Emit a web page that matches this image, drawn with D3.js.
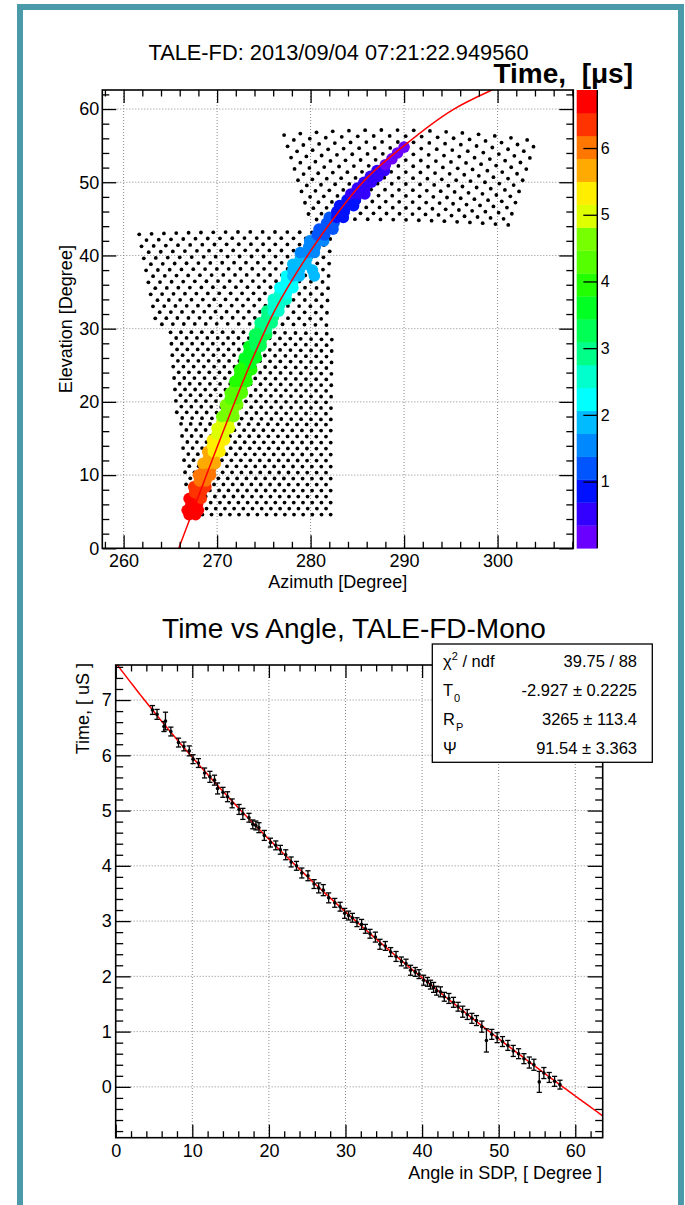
<!DOCTYPE html>
<html><head><meta charset="utf-8">
<script src="https://cdn.jsdelivr.net/npm/d3@7"></script>
<style>
html,body{margin:0;padding:0;background:#fff;}
svg text{font-family:"Liberation Sans",Arial,Helvetica,sans-serif;fill:#000;}
</style></head><body>
<svg id="c" width="685" height="1205"></svg>
<script>
// ---------------- DATA ----------------
const topTitle = "TALE-FD: 2013/09/04 07:21:22.949560";
const zTitle = "Time,\u00a0 [\u03bcs]";
const azLabel = "Azimuth [Degree]";
const elLabel = "Elevation [Degree]";
const azDomain = [257.72, 308.1];
const elDomain = [0, 62.6];
const azTicks = [260, 270, 280, 290, 300];
const elTicks = [0, 10, 20, 30, 40, 50, 60];
const zDomain = [0, 6.87];
const zTicks = [1, 2, 3, 4, 5, 6];
const zLevels = 20;
const palette = ["#6a00ff","#3300ff","#0011ff","#0055ff","#0088ff","#00bbff","#00ffff","#00ffcc","#00ff88","#00ff55",
                 "#00ff22","#22ff00","#55ff00","#77ff00","#ddff00","#ffee00","#ffaa00","#ff7700","#ff3300","#ff0000"];

// PMT cameras (mirrors): corner pixel centres [az, el], 16 x 16 hex array each
const mirrorNames = ["upper", "left", "middle", "lower"];
const mirrorTL = [[277.6, 56.5], [262.0, 42.9], [265.3, 29.5], [266.4, 17.0]];
const mirrorTR = [[303.6, 55.7], [281.8, 43.1], [282.0, 29.3], [281.9, 16.9]];
const mirrorBL = [[280.3, 44.9], [263.8, 30.6], [266.0, 17.8], [267.2, 4.6]];
const mirrorBR = [[300.8, 44.2], [281.4, 30.5], [281.9, 17.6], [281.9, 4.6]];
const mirrorBowTop = [1.0, 0.2, 0.1, 0.0];
const mirrorBowBottom = [0.3, 0.1, 0.0, 0.0];
const pmtRows = 16, pmtCols = 16;

// hit PMTs along the track: elevation of each row, azimuths and times (us)
const hitEl = [4.6,5.2,6.0,6.8,7.6,8.4,9.2,10.0,10.8,11.6,12.4,13.2,14.0,14.8,15.6,16.4,17.2,18.0,18.8,19.6,
  20.4,21.2,22.0,22.8,23.6,24.4,25.2,26.0,26.8,27.6,28.4,29.2,30.0,30.8,31.6,32.4,33.2,34.0,34.8,35.6,
  36.4,37.2,38.0,38.8,39.6,40.4,41.2,42.0,42.8,43.6,44.4,45.2,46.0,46.8,47.6,48.4,49.2,50.0,50.8,51.6,
  52.4,53.2,54.0,54.8];
const hitAz = [[267.0,267.7],[266.8,267.4,268.0],[267.2,267.9],[267.0,267.7,268.3],[267.6,268.3],[267.5,268.2,268.8],
  [268.1,268.8],[268.0,268.7,269.3],[268.6,269.3],[268.5,269.2,269.8],[269.1,269.7],[269.0,269.6,270.3],[269.5,270.2],
  [269.5,270.1,270.8],[270.0,270.7],[270.0,270.6,271.3],[270.5,271.2],[270.5,271.1,271.8],[271.0,271.7],[270.9,271.6,272.2],
  [271.4,272.1],[271.4,272.1,272.7],[271.9,272.6],[271.9,272.6,273.2],[272.4,273.1],[272.4,273.1,273.7],[272.9,273.6],
  [272.9,273.6,274.2],[273.4,274.1],[273.4,274.1,274.7],[274.0,274.7],[274.0,274.7,275.3],[274.6,275.3],[274.6,275.3,275.9],
  [275.3,276.0],[275.3,276.0,276.6],[276.0,276.7],[276.0,276.7,277.4],[276.7,277.4],[276.7,277.4,278.1],[277.4,278.1],
  [277.4,278.1,278.8,280.4],[278.1,278.8,280.2],[278.1,278.8,279.5],[278.9,279.6],[278.9,279.6,280.4],[279.8,280.5],
  [279.9,280.6,281.4],[280.7,281.5],[280.9,281.7,282.4],[281.7,282.5],[282.0,282.8,283.5],[282.8,283.6],[283.1,283.9,284.6],
  [283.9,284.8],[284.3,285.1,285.8],[285.0,285.8],[285.7,286.5],[286.4,287.2],[287.1,287.9],[288.0],[288.7],[289.3],[290.0]];
const hitTime = [[6.86,6.84],[6.82,6.80,6.78],[6.72,6.66],[6.58,6.55,6.50],[6.42,6.38],[6.32,6.28,6.24],
  [6.16,6.12],[6.06,6.02,5.98],[5.92,5.88],[5.82,5.76,5.72],[5.64,5.60],[5.52,5.48,5.44],[5.38,5.32],
  [5.26,5.22,5.18],[5.12,5.06],[5.02,4.98,4.92],[4.88,4.82],[4.78,4.74,4.70],[4.66,4.60],[4.56,4.52,4.48],
  [4.44,4.40],[4.34,4.30,4.27],[4.22,4.17],[4.12,4.08,4.05],[4.00,3.95],[3.90,3.86,3.82],[3.78,3.72],
  [3.68,3.63,3.60],[3.54,3.50],[3.45,3.40,3.37],[3.32,3.27],[3.22,3.18,3.14],[3.10,3.05],[3.00,2.95,2.92],
  [2.88,2.84],[2.78,2.74,2.70],[2.64,2.60],[2.55,2.50,2.46],[2.42,2.37],[2.32,2.28,2.24],[2.20,2.16],
  [2.10,2.06,2.02,1.98],[1.98,1.94,1.92],[1.88,1.84,1.81],[1.78,1.74],[1.68,1.64,1.60],[1.56,1.52],
  [1.48,1.44,1.40],[1.35,1.31],[1.26,1.22,1.19],[1.15,1.10],[1.05,1.01,0.98],[0.94,0.90],[0.85,0.81,0.78],
  [0.74,0.70],[0.68,0.64,0.60],[0.58,0.55],[0.52,0.48],[0.46,0.42],[0.40,0.37],[0.32],[0.25],[0.18],[0.10]];

// shower-detector-plane projection (red line, top panel)
const sdpAz = [265.9, 267.85, 274.2, 275.66, 279.94, 282.08, 285.29, 290.1, 295.2, 299.4, 301.0];
const sdpEl = [0.0, 6.6, 27.1, 31.2, 40.5, 44.4, 49.6, 55.1, 59.9, 62.6, 63.5];

// bottom panel
const botTitle = "Time vs Angle, TALE-FD-Mono";
const angLabel = "Angle in SDP, [ Degree ]";
const timeLabel = "Time, [ uS ]";
const angDomain = [0, 63.58];
const timeDomain = [-0.92, 7.634];
const angTicks = [0, 10, 20, 30, 40, 50, 60];
const timeAxisTicks = [0, 1, 2, 3, 4, 5, 6, 7];
const pAngle = [4.8,5.4,6.3,6.5,7.2,8.2,8.9,9.6,10.1,10.8,11.6,12.3,12.9,13.3,14.0,14.6,15.2,16.1,16.6,17.4,
  17.9,18.3,18.7,19.4,20.2,20.9,21.5,22.2,22.9,23.6,24.3,25.1,25.9,26.5,27.1,27.8,28.6,29.3,29.9,30.4,
  30.9,31.5,32.1,32.6,33.2,33.9,34.5,35.2,35.9,36.6,37.3,37.9,38.5,39.1,39.6,40.2,40.7,41.1,41.5,41.9,
  42.4,42.9,43.5,44.1,44.7,45.3,45.9,46.5,47.1,47.8,48.4,49.1,49.8,50.5,51.2,51.9,52.6,53.3,54.0,54.6,
  55.3,55.9,56.6,57.3,58.0];
const pTime = [6.82,6.74,6.52,6.62,6.43,6.23,6.16,6.08,5.93,5.86,5.68,5.61,5.55,5.40,5.33,5.25,5.13,5.02,4.94,4.87,
  4.75,4.73,4.69,4.55,4.42,4.37,4.29,4.20,4.07,4.00,3.87,3.82,3.67,3.60,3.56,3.42,3.33,3.26,3.14,3.10,
  3.06,2.98,2.94,2.86,2.77,2.71,2.58,2.55,2.44,2.36,2.27,2.23,2.11,2.08,2.04,1.93,1.90,1.85,1.80,1.74,
  1.72,1.63,1.60,1.53,1.45,1.36,1.31,1.24,1.20,1.09,0.84,0.95,0.89,0.82,0.75,0.65,0.60,0.51,0.44,0.40,
  0.09,0.25,0.17,0.10,0.04];
const pErr = [0.08,0.09,0.09,0.16,0.08,0.08,0.08,0.09,0.08,0.08,0.09,0.10,0.09,0.10,0.09,0.09,0.08,0.09,0.10,0.08,
  0.08,0.08,0.09,0.09,0.08,0.08,0.08,0.09,0.09,0.08,0.09,0.09,0.08,0.09,0.10,0.09,0.08,0.08,0.09,0.08,
  0.08,0.08,0.09,0.08,0.08,0.09,0.09,0.08,0.08,0.09,0.08,0.08,0.09,0.08,0.08,0.09,0.08,0.08,0.09,0.08,
  0.09,0.08,0.09,0.09,0.08,0.10,0.09,0.09,0.09,0.10,0.21,0.09,0.09,0.09,0.09,0.10,0.09,0.09,0.10,0.10,
  0.19,0.10,0.09,0.09,0.08];
// fit parameters (T0 [us], Rp [m], Psi [deg])
const fitT0 = -2.927, fitRp = 3265, fitPsi = 91.54;
const statsNames = ["chi2", "T0", "RP", "Psi"];
const statsValues = ["39.75 / 88", "-2.927 \u00b1 0.2225", "3265 \u00b1 113.4", "91.54 \u00b1 3.363"];

// ---------------- DRAW ----------------
const svg = d3.select("#c");
const FONT = 18;

// outer frame
svg.append("rect").attr("x", 20).attr("y", 7).attr("width", 661).attr("height", 1215)
  .attr("fill", "none").attr("stroke", "#4a9aaa").attr("stroke-width", 6);

function drawAxes(g, box, xs, ys, xMajor, xMinor, yMajor, yMinor, xLen, yLen, xPad, yPad) {
  const mk = (ax) => ax.tickSizeOuter(0);
  const fmt = d3.format("d");
  const style = (sel) => {
    sel.select(".domain").remove();
    sel.selectAll("line").attr("stroke", "#000").attr("stroke-width", 1.3);
    sel.selectAll("text").attr("font-size", FONT).attr("font-family", "Liberation Sans, Arial, sans-serif").attr("fill", "#000");
  };
  g.append("g").attr("transform", `translate(0,${box.y1})`)
    .call(mk(d3.axisBottom(xs).tickValues(xMinor).tickSizeInner(-xLen / 2).tickFormat(""))).call(style);
  g.append("g").attr("transform", `translate(0,${box.y1})`)
    .call(mk(d3.axisBottom(xs).tickValues(xMajor).tickSizeInner(-xLen).tickPadding(xPad).tickFormat(fmt))).call(style);
  g.append("g").attr("transform", `translate(0,${box.y0})`)
    .call(mk(d3.axisTop(xs).tickValues(xMinor).tickSizeInner(-xLen / 2).tickFormat(""))).call(style);
  g.append("g").attr("transform", `translate(0,${box.y0})`)
    .call(mk(d3.axisTop(xs).tickValues(xMajor).tickSizeInner(-xLen).tickFormat(""))).call(style);
  g.append("g").attr("transform", `translate(${box.x0},0)`)
    .call(mk(d3.axisLeft(ys).tickValues(yMinor).tickSizeInner(-yLen / 2).tickFormat(""))).call(style);
  g.append("g").attr("transform", `translate(${box.x0},0)`)
    .call(mk(d3.axisLeft(ys).tickValues(yMajor).tickSizeInner(-yLen).tickPadding(yPad).tickFormat(fmt))).call(style);
  g.append("g").attr("transform", `translate(${box.x1},0)`)
    .call(mk(d3.axisRight(ys).tickValues(yMinor).tickSizeInner(-yLen / 2).tickFormat(""))).call(style);
  g.append("g").attr("transform", `translate(${box.x1},0)`)
    .call(mk(d3.axisRight(ys).tickValues(yMajor).tickSizeInner(-yLen).tickFormat(""))).call(style);
  g.append("rect").attr("x", box.x0).attr("y", box.y0).attr("width", box.x1 - box.x0).attr("height", box.y1 - box.y0)
    .attr("fill", "none").attr("stroke", "#000").attr("stroke-width", 1.6);
}

function drawGrid(g, box, xs, ys, xv, yv) {
  const gg = g.append("g").attr("stroke", "#8a8a8a").attr("stroke-width", 1).attr("stroke-dasharray", "1,2");
  xv.forEach(v => gg.append("line").attr("x1", xs(v)).attr("x2", xs(v)).attr("y1", box.y0).attr("y2", box.y1));
  yv.forEach(v => gg.append("line").attr("y1", ys(v)).attr("y2", ys(v)).attr("x1", box.x0).attr("x2", box.x1));
}

const minorRange = (dom, step, majors) => d3.range(Math.ceil(dom[0] / step - 1e-9) * step, dom[1] + 1e-9, step)
  .map(v => +v.toFixed(6)).filter(v => !majors.some(m => Math.abs(m - v) < 1e-6));

// ===== TOP PANEL =====
const tp = { x0: 102.3, x1: 573.3, y0: 90, y1: 548.3 };
const xA = d3.scaleLinear().domain(azDomain).range([tp.x0, tp.x1]);
const yE = d3.scaleLinear().domain(elDomain).range([tp.y1, tp.y0]);
const gTop = svg.append("g");
const defs = svg.append("defs");
defs.append("clipPath").attr("id", "clipTop").append("rect")
  .attr("x", tp.x0).attr("y", tp.y0).attr("width", tp.x1 - tp.x0).attr("height", tp.y1 - tp.y0);

drawGrid(gTop, tp, xA, yE, azTicks.filter(v => v > azDomain[0] && v < azDomain[1]), elTicks.filter(v => v > elDomain[0] && v < elDomain[1]));

// PMT grid
const pmts = [];
mirrorNames.forEach((name, m) => {
  for (let r = 0; r < pmtRows; r++) {
    const v = r / (pmtRows - 1);
    const L = [mirrorTL[m][0] + (mirrorBL[m][0] - mirrorTL[m][0]) * v, mirrorTL[m][1] + (mirrorBL[m][1] - mirrorTL[m][1]) * v];
    const R = [mirrorTR[m][0] + (mirrorBR[m][0] - mirrorTR[m][0]) * v, mirrorTR[m][1] + (mirrorBR[m][1] - mirrorTR[m][1]) * v];
    const bow = mirrorBowTop[m] * (1 - v) + mirrorBowBottom[m] * v;
    for (let c = 0; c < pmtCols; c++) {
      const u = (c + (r % 2) * 0.5 - 0.25) / (pmtCols - 1);
      pmts.push([L[0] + (R[0] - L[0]) * u, L[1] + (R[1] - L[1]) * u + bow * 4 * u * (1 - u)]);
    }
  }
});
gTop.append("g").selectAll("circle").data(pmts).join("circle")
  .attr("cx", d => xA(d[0])).attr("cy", d => yE(d[1])).attr("r", 1.9).attr("fill", "#000");

// hits
const zBand = (t) => Math.max(0, Math.min(zLevels - 1, Math.floor((t - zDomain[0]) / ((zDomain[1] - zDomain[0]) / zLevels))));
const hits = [];
hitEl.forEach((el, i) => hitAz[i].forEach((az, j) => hits.push({ az, el, t: hitTime[i][j] })));
hits.sort((a, b) => b.t - a.t);
gTop.append("g").selectAll("circle").data(hits).join("circle")
  .attr("cx", d => xA(d.az)).attr("cy", d => yE(d.el)).attr("r", 5.8)
  .attr("fill", d => palette[zBand(d.t)]);

// SDP line
gTop.append("path").attr("clip-path", "url(#clipTop)")
  .attr("d", d3.line().x((d, i) => xA(sdpAz[i])).y((d, i) => yE(sdpEl[i])).curve(d3.curveMonotoneX)(sdpAz))
  .attr("fill", "none").attr("stroke", "#ff0000").attr("stroke-width", 1.5);

drawAxes(gTop, tp, xA, yE, azTicks, minorRange(azDomain, 2, azTicks), elTicks, minorRange(elDomain, 2, elTicks), 13, 14, 5.5, 3);

// titles
svg.append("text").attr("x", 338.5).attr("y", 60).attr("text-anchor", "middle").attr("font-size", 21.8).text(topTitle);
svg.append("text").attr("x", tp.x0 + (tp.x1 - tp.x0) / 2).attr("y", 588).attr("text-anchor", "middle").attr("font-size", FONT).text(azLabel);
svg.append("text").attr("transform", `translate(72,${(tp.y0 + tp.y1) / 2}) rotate(-90)`).attr("text-anchor", "middle").attr("font-size", FONT).text(elLabel);

// colour bar
const cb = { x0: 576.7, x1: 597.3 };
const zS = d3.scaleLinear().domain(zDomain).range([tp.y1, tp.y0]);
const zStep = (zDomain[1] - zDomain[0]) / zLevels;
svg.append("g").selectAll("rect").data(palette).join("rect")
  .attr("x", cb.x0).attr("width", cb.x1 - cb.x0)
  .attr("y", (d, i) => zS(zDomain[0] + (i + 1) * zStep)).attr("height", (d, i) => zS(zDomain[0] + i * zStep) - zS(zDomain[0] + (i + 1) * zStep) + 0.3)
  .attr("fill", d => d);
svg.append("line").attr("x1", cb.x1).attr("x2", cb.x1).attr("y1", tp.y0).attr("y2", tp.y1).attr("stroke", "#000").attr("stroke-width", 1.4);
const zAx = svg.append("g").attr("transform", `translate(${cb.x1},0)`)
  .call(d3.axisRight(zS).tickValues(zTicks).tickSizeInner(-14).tickSizeOuter(0).tickPadding(3.5).tickFormat(d3.format("d")));
zAx.select(".domain").remove();
zAx.selectAll("line").attr("stroke", "#000").attr("stroke-width", 1.3);
zAx.selectAll("text").attr("font-size", 16).attr("font-family", "Liberation Sans, Arial, sans-serif").attr("fill", "#000");
svg.append("text").attr("x", 633).attr("y", 83).attr("text-anchor", "end").attr("font-size", 28).attr("font-weight", "bold").text(zTitle);

// ===== BOTTOM PANEL =====
const bp = { x0: 115.7, x1: 602.7, y0: 665, y1: 1137.7 };
const xS = d3.scaleLinear().domain(angDomain).range([bp.x0, bp.x1]);
const yT = d3.scaleLinear().domain(timeDomain).range([bp.y1, bp.y0]);
const gBot = svg.append("g");
defs.append("clipPath").attr("id", "clipBot").append("rect")
  .attr("x", bp.x0).attr("y", bp.y0).attr("width", bp.x1 - bp.x0).attr("height", bp.y1 - bp.y0);

drawGrid(gBot, bp, xS, yT, angTicks.filter(v => v > angDomain[0] && v < angDomain[1]), timeAxisTicks);

// fit function curve
const c_m_per_us = 299.792458;
const fitFn = (chi) => fitT0 + (fitRp / c_m_per_us) * Math.tan(((180 - fitPsi - chi) / 2) * Math.PI / 180);
const fitSamples = d3.range(angDomain[0] - 1, angDomain[1] + 1.01, 0.25);
gBot.append("path").attr("clip-path", "url(#clipBot)")
  .attr("d", d3.line().x(d => xS(d)).y(d => yT(fitFn(d)))(fitSamples))
  .attr("fill", "none").attr("stroke", "#ff0000").attr("stroke-width", 1.5);

// points with error bars
const pts = gBot.append("g");
pAngle.forEach((a, i) => {
  const x = xS(a), yc = yT(pTime[i]), ya = yT(pTime[i] + pErr[i]), yb = yT(pTime[i] - pErr[i]);
  pts.append("line").attr("x1", x).attr("x2", x).attr("y1", ya).attr("y2", yb).attr("stroke", "#000").attr("stroke-width", 1.3);
  pts.append("line").attr("x1", x - 2.6).attr("x2", x + 2.6).attr("y1", ya).attr("y2", ya).attr("stroke", "#000").attr("stroke-width", 1.3);
  pts.append("line").attr("x1", x - 2.6).attr("x2", x + 2.6).attr("y1", yb).attr("y2", yb).attr("stroke", "#000").attr("stroke-width", 1.3);
  pts.append("circle").attr("cx", x).attr("cy", yc).attr("r", 1.8).attr("fill", "#000");
});

drawAxes(gBot, bp, xS, yT, angTicks, minorRange(angDomain, 2, angTicks), timeAxisTicks, minorRange(timeDomain, 0.2, timeAxisTicks), 13, 15, 6.2, 4);

svg.append("text").attr("x", 354).attr("y", 638).attr("text-anchor", "middle").attr("font-size", 28).text(botTitle);
svg.append("text").attr("x", 602).attr("y", 1179).attr("text-anchor", "end").attr("font-size", FONT).text(angLabel);
svg.append("text").attr("transform", `translate(89,${bp.y0 - 2}) rotate(-90)`).attr("text-anchor", "end").attr("font-size", FONT).text(timeLabel);

// stats box
const sb = { x: 432.3, y: 644, w: 220, h: 118.3 };
svg.append("rect").attr("x", sb.x).attr("y", sb.y).attr("width", sb.w).attr("height", sb.h)
  .attr("fill", "#fff").attr("stroke", "#000").attr("stroke-width", 1.3);
const rowY = [666.7, 695.7, 725, 754];
const SF = 16.5;
statsNames.forEach((n, i) => {
  const t = svg.append("text").attr("x", 443).attr("y", rowY[i]).attr("font-size", SF);
  if (n === "chi2") {
    t.append("tspan").text("\u03c7");
    t.append("tspan").attr("dy", -7).attr("font-size", 11).text("2");
    t.append("tspan").attr("dy", 7).text(" / ndf");
  } else if (n === "T0") {
    t.append("tspan").text("T");
    t.append("tspan").attr("dy", 6).attr("dx", 1).attr("font-size", 11).text("0");
  } else if (n === "RP") {
    t.append("tspan").text("R");
    t.append("tspan").attr("dy", 6).attr("dx", 1).attr("font-size", 11).text("P");
  } else {
    t.append("tspan").text("\u03a8");
  }
  svg.append("text").attr("x", 637).attr("y", rowY[i]).attr("text-anchor", "end").attr("font-size", SF).text(statsValues[i]);
});
</script></body></html>
